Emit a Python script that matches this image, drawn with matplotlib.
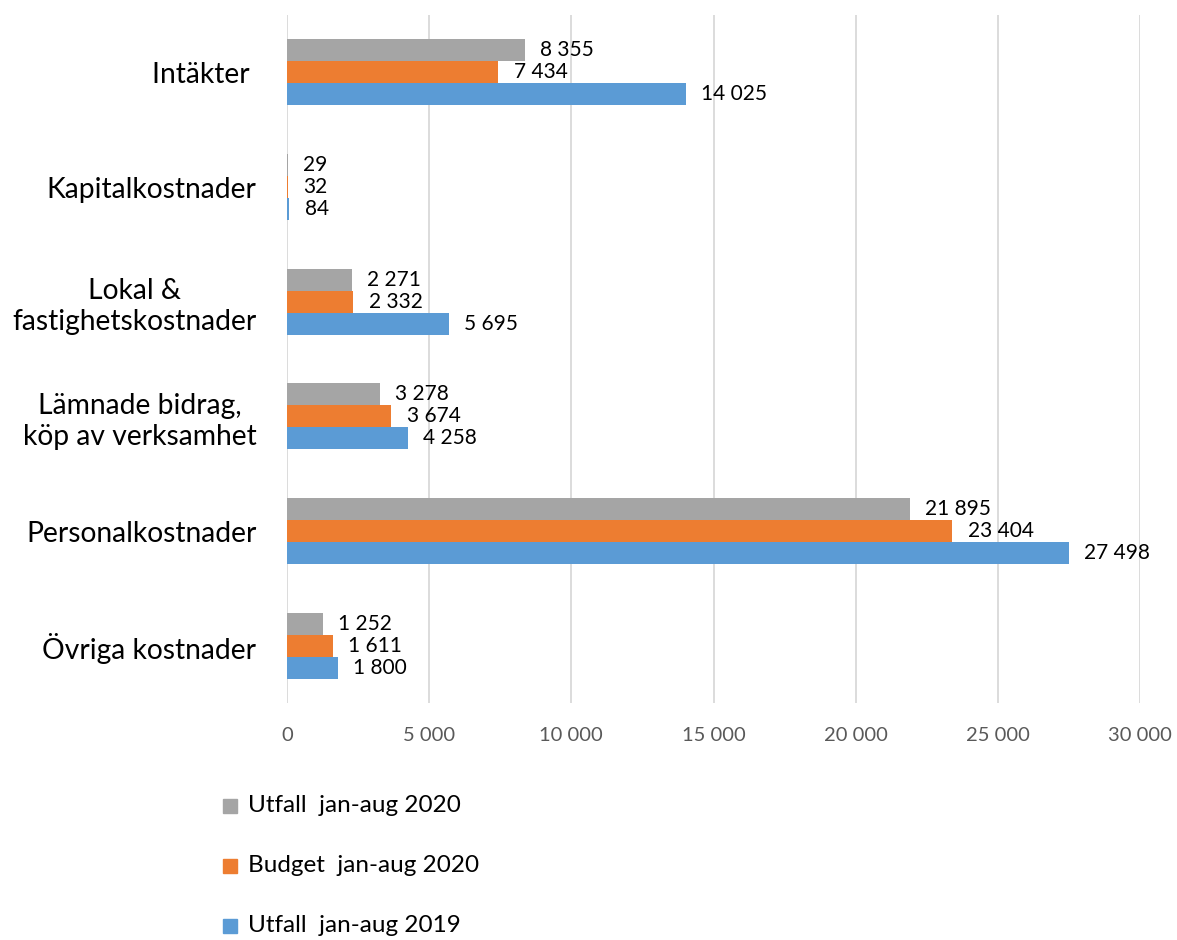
import matplotlib
matplotlib.use("Agg")
import matplotlib.pyplot as plt
from matplotlib.patches import Rectangle
import numpy as np

plt.rcParams['font.family'] = ['Lato', 'DejaVu Sans']

categories = ["Intäkter ", "Kapitalkostnader", "Lokal &\nfastighetskostnader",
              "Lämnade bidrag,\nköp av verksamhet", "Personalkostnader", "Övriga kostnader"]
series_names = ["Utfall  jan-aug 2020", "Budget  jan-aug 2020", "Utfall  jan-aug 2019"]
utfall_2020 = [8355, 29, 2271, 3278, 21895, 1252]
budget_2020 = [7434, 32, 2332, 3674, 23404, 1611]
utfall_2019 = [14025, 84, 5695, 4258, 27498, 1800]
colors = ["#A5A5A5", "#ED7D31", "#5B9BD5"]
xticks = [0, 5000, 10000, 15000, 20000, 25000, 30000]

def fmt(v):
    return f"{v:,}".replace(",", " ")

fig = plt.figure(figsize=(11.77, 9.4), dpi=100)
ax = fig.add_axes([287/1177, 1 - 703/940, (1140-287)/1177, (703-15)/940])

y = np.arange(len(categories))
h = 0.192
series = [utfall_2020, budget_2020, utfall_2019]
offsets = [-h, 0, h]
for vals, c, off in zip(series, colors, offsets):
    bars = ax.barh(y + off, vals, height=h, color=c, zorder=3)
    for b, v in zip(bars, vals):
        ax.annotate(fmt(v), (b.get_width(), b.get_y() + b.get_height()/2),
                    xytext=(11, 0), textcoords="offset points",
                    va="center", ha="left", fontsize=15, color="#000000")

ax.set_ylim(len(categories) - 0.5, -0.5)
ax.set_xlim(0, 30000)
ax.set_xticks(xticks)
ax.set_xticklabels([fmt(t) for t in xticks], color="#595959", fontsize=14.5)
ax.set_yticks(y)
ax.set_yticklabels(categories, fontsize=20.3, multialignment="center", linespacing=1.25)
ax.tick_params(axis="y", length=0, pad=22)
ax.tick_params(axis="x", length=0, pad=17)
for s in ax.spines.values():
    s.set_visible(False)
ax.grid(axis="x", color="#D9D9D9", linewidth=1.3, zorder=0)
ax.set_axisbelow(True)

# legend
for i, (name, c) in enumerate(zip(series_names, colors)):
    yc = 806 + i * 60
    fig.patches.append(Rectangle((223/1177, 1 - (yc + 7)/940), 14/1177, 14/940,
                                 transform=fig.transFigure, color=c))
    fig.text(248/1177, 1 - yc/940, name, fontsize=17.5, va="center", ha="left", color="#000000")

fig.savefig("out.png", dpi=100)
